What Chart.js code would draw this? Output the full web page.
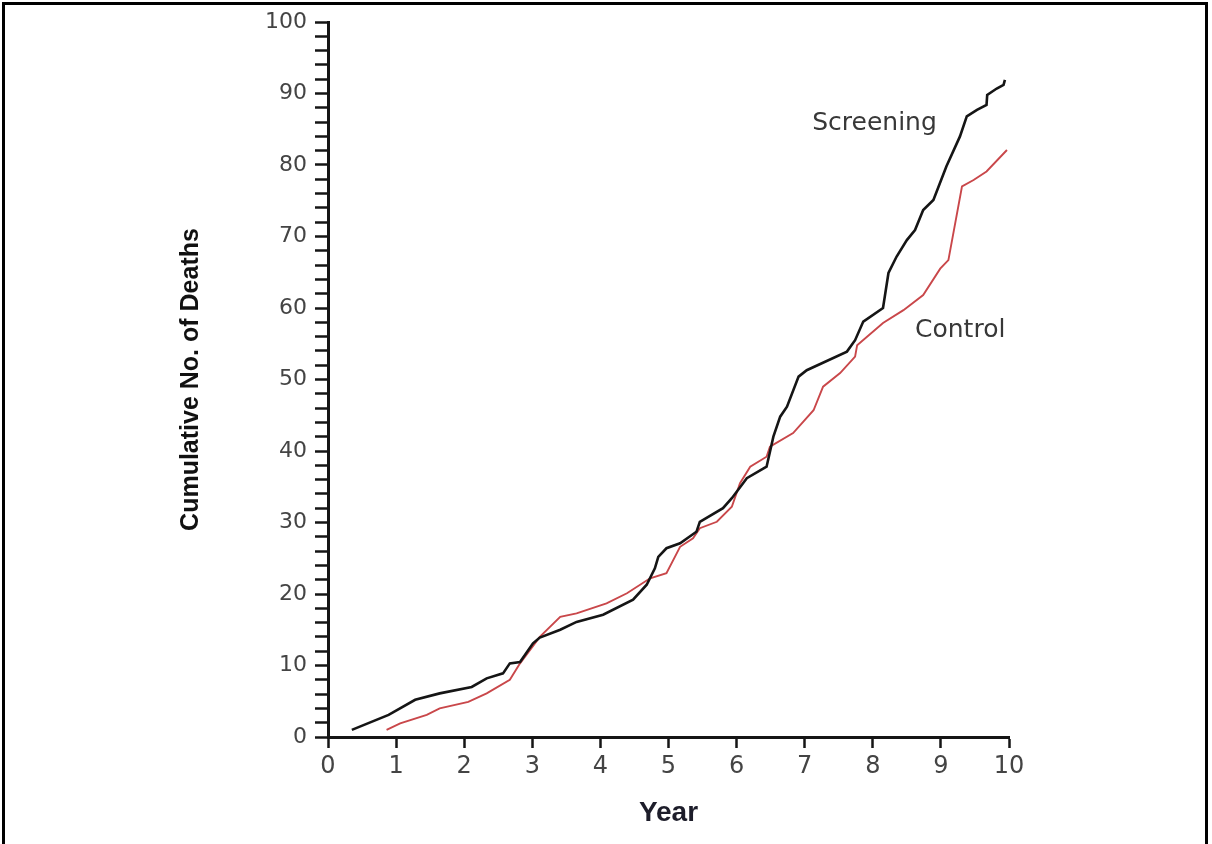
<!DOCTYPE html>
<html lang="en">
<head>
  <meta charset="UTF-8">
  <title>Cumulative No. of Deaths</title>
  <style>
    body { margin: 0; background: #fff; overflow: hidden; }
    #frame {
      position: absolute; left: 2px; top: 2px;
      width: 1200px; height: 900px;
      border: 3px solid #000; border-bottom: none;
    }
    #wrap { position: absolute; left: 0; top: 0; width: 1212px; height: 844px; }
  </style>
</head>
<body>
  <div id="frame"></div>
  <div id="wrap"><canvas id="chart"></canvas></div>

  <script src="https://cdn.jsdelivr.net/npm/chart.js"></script>
  <script>
    // values
    const screeningYears = [0.35, 0.89, 1.28, 1.64, 2.11, 2.33, 2.57, 2.67, 2.82, 3.01, 3.11, 3.41, 3.65, 4.04, 4.48, 4.68, 4.80, 4.85, 4.97, 5.17,
      5.41, 5.46, 5.80, 5.93, 6.15, 6.44, 6.49, 6.54, 6.64, 6.74, 6.91, 7.03, 7.62, 7.74, 7.86, 8.15, 8.23, 8.35, 8.50, 8.62,
      8.74, 8.89, 9.08, 9.28, 9.38, 9.53, 9.67, 9.68, 9.82, 9.92, 9.94];
    const screeningDeaths = [1.0, 3.1, 5.2, 6.1, 7.0, 8.2, 8.9, 10.3, 10.5, 13.1, 13.9, 15.0, 16.1, 17.1, 19.2, 21.3, 23.6, 25.2, 26.4, 27.1,
      28.7, 30.1, 32.0, 33.4, 36.2, 37.8, 39.9, 42.0, 44.8, 46.2, 50.4, 51.3, 53.9, 55.5, 58.1, 60.0, 64.9, 67.2, 69.5, 70.9,
      73.7, 75.1, 79.8, 84.0, 86.8, 87.7, 88.4, 89.8, 90.7, 91.2, 91.9];

    const controlYears = [0.86, 1.06, 1.45, 1.64, 2.06, 2.33, 2.67, 2.82, 3.11, 3.41, 3.65, 4.09, 4.39, 4.73, 4.97, 5.17, 5.36, 5.46, 5.71, 5.93,
      6.05, 6.20, 6.44, 6.49, 6.83, 7.13, 7.27, 7.52, 7.74, 7.77, 8.15, 8.45, 8.74, 8.99, 9.11, 9.31, 9.48, 9.67, 9.97];
    const controlDeaths = [1.0, 1.9, 3.1, 4.0, 4.9, 6.1, 8.0, 10.3, 14.0, 16.8, 17.3, 18.7, 20.1, 22.2, 22.9, 26.6, 27.8, 29.2, 30.1, 32.2,
      35.5, 37.8, 39.2, 40.6, 42.5, 45.7, 49.0, 50.9, 53.2, 54.8, 57.9, 59.7, 61.8, 65.5, 66.7, 77.0, 77.9, 79.1, 82.1];

    const yTickLabels = [0, 10, 20, 30, 40, 50, 60, 70, 80, 90, 100];
    const xTickLabels = [0, 1, 2, 3, 4, 5, 6, 7, 8, 9, 10];

    const toPoints = (xs, ys) => xs.map((x, i) => ({ x: x, y: ys[i] }));

    // text labels next to the curves, placed in data units
    const curveLabels = {
      id: 'curveLabels',
      afterDatasetsDraw(chart) {
        const { ctx, scales: { x, y } } = chart;
        const items = [
          { text: 'Screening', x: 7.11, y: 84.9 },
          { text: 'Control', x: 8.62, y: 55.9 }
        ];
        ctx.save();
        ctx.font = '25px "DejaVu Sans"';
        ctx.fillStyle = '#383838';
        ctx.textAlign = 'left';
        ctx.textBaseline = 'alphabetic';
        items.forEach(it => ctx.fillText(it.text, x.getPixelForValue(it.x), y.getPixelForValue(it.y)));
        ctx.restore();
      }
    };

    new Chart(document.getElementById('chart'), {
      type: 'line',
      data: {
        datasets: [
          {
            label: 'Screening',
            data: toPoints(screeningYears, screeningDeaths),
            borderColor: '#151515',
            borderWidth: 2.6,
            pointRadius: 0,
            tension: 0
          },
          {
            label: 'Control',
            data: toPoints(controlYears, controlDeaths),
            borderColor: '#c9474a',
            borderWidth: 1.9,
            pointRadius: 0,
            tension: 0
          }
        ]
      },
      options: {
        responsive: true,
        maintainAspectRatio: false,
        animation: false,
        layout: { padding: { left: 0, top: 22, right: 203, bottom: 0 } },
        plugins: {
          legend: { display: false },
          tooltip: { enabled: false }
        },
        scales: {
          x: {
            type: 'linear',
            min: 0,
            max: 10,
            afterFit: s => { s.height = 107; },
            grid: { drawOnChartArea: false, drawTicks: true, tickLength: 11, tickColor: '#151515', tickWidth: 2.5 },
            border: { display: true, color: '#151515', width: 3 },
            ticks: {
              stepSize: 1,
              autoSkip: false,
              maxRotation: 0,
              padding: 4,
              color: '#444',
              font: { family: 'DejaVu Sans', size: 24 },
              callback: v => xTickLabels.includes(v) ? String(v) : ''
            },
            title: {
              display: true,
              text: 'Year',
              color: '#1d1d2a',
              font: { family: 'Liberation Sans', size: 28, weight: 'bold' },
              padding: { top: 0, bottom: 14 }
            }
          },
          y: {
            min: 0,
            max: 100,
            afterFit: s => { s.width = 328; },
            grid: { drawOnChartArea: false, drawTicks: true, tickLength: 13, tickColor: '#151515', tickWidth: 2.5 },
            border: { display: true, color: '#151515', width: 3 },
            ticks: {
              stepSize: 2,
              autoSkip: false,
              padding: 8,
              color: '#444',
              font: { family: 'DejaVu Sans', size: 22 },
              callback: v => yTickLabels.includes(v) ? String(v) : ''
            },
            title: {
              display: true,
              text: 'Cumulative No. of Deaths',
              color: '#111',
              font: { family: 'Liberation Sans', size: 25, weight: 'bold' },
              padding: { top: 176, bottom: 0 }
            }
          }
        }
      },
      plugins: [curveLabels]
    });
  </script>
</body>
</html>
